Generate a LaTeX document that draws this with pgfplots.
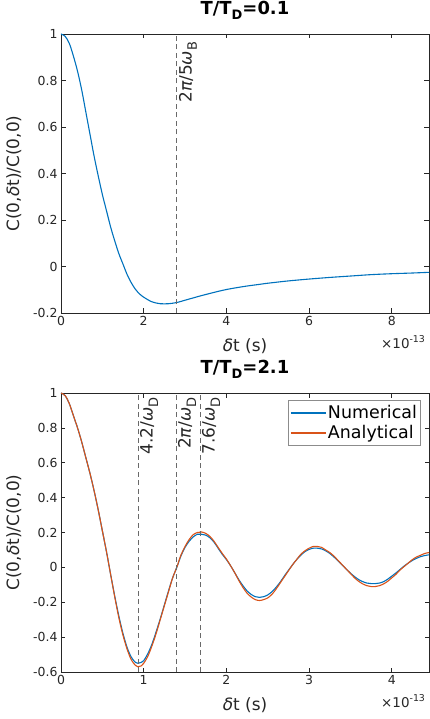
\documentclass[border=0pt]{standalone}
\usepackage{fontspec}
\setmainfont{DejaVu Sans}
\usepackage{pgfplots}
\pgfplotsset{compat=1.18}

\definecolor{mblue}{RGB}{0,114,189}
\definecolor{morange}{RGB}{217,83,25}
\definecolor{axgray}{RGB}{38,38,38}
\definecolor{refgray}{RGB}{105,105,105}

% MATLAB-like subscript: fairly large, well lowered
\newcommand{\sub}[1]{\raisebox{-0.32em}{\fontsize{13}{13}\selectfont #1}}

\pgfplotsset{
  corrplot/.style={
    scale only axis, width=368bp, height=279bp,
    axis line style={axgray, line width=0.6bp},
    tick style={axgray, line width=0.6bp},
    major tick length=4.5bp,
    ticklabel style={font=\fontsize{12.5}{14}\selectfont, text=axgray},
    /pgf/number format/assume math mode=true,
    scaled ticks=false,
    xlabel={\textit{δ}t (s)},
    ylabel={C(0,\textit{δ}t)/C(0,0)},
    label style={font=\fontsize{17}{20}\selectfont, text=axgray},
    xlabel style={at={(axis description cs:0.5,0)}, anchor=center, yshift=-33bp},
    ylabel style={at={(axis description cs:-0.128,0.5)}, anchor=center},
    title style={font=\bfseries\fontsize{18}{20}\selectfont, at={(axis description cs:0.5,1)}, anchor=base, yshift=14bp},
    clip=false,
  },
  vline/.style={refgray, dash pattern=on 5bp off 3.5bp, line width=0.6bp, forget plot},
}
\tikzset{
  vlab/.style={rotate=90, anchor=north east, font=\fontsize{17}{20}\selectfont, text=axgray, inner sep=2bp},
  expo/.style={anchor=base east, font=\fontsize{13.5}{15}\selectfont, text=axgray, yshift=-35bp},
}

\begin{document}
\begin{tikzpicture}
\useasboundingbox (-61bp,-406bp) rectangle (369bp,313bp);

% T/T_D = 0.1
\begin{axis}[corrplot, at={(0,0)}, anchor=south west,
  title={T/T\sub{\bfseries D}=0.1},
  xmin=0, xmax=8.9, ymin=-0.2, ymax=1,
  xtick={0,2,4,6,8}, ytick={-0.2,0,0.2,0.4,0.6,0.8,1}]
\addplot[mblue, line width=1.1bp, smooth] coordinates {
(0,1) (0.1,0.99) (0.2,0.96) (0.3,0.905) (0.4,0.84) (0.5,0.76) (0.6,0.665)
(0.7,0.57) (0.8,0.475) (0.9,0.39) (1.0,0.31) (1.1,0.24) (1.2,0.17) (1.3,0.11)
(1.4,0.055) (1.5,0.01) (1.6,-0.035) (1.7,-0.07) (1.8,-0.098) (1.9,-0.118)
(2.0,-0.132) (2.2,-0.152) (2.4,-0.16) (2.6,-0.16) (2.8,-0.155) (3.0,-0.145)
(3.2,-0.135) (3.4,-0.125) (3.6,-0.116) (3.8,-0.107) (4.0,-0.099) (4.25,-0.091)
(4.5,-0.084) (4.75,-0.078) (5.0,-0.072) (5.5,-0.062) (6.0,-0.054) (6.5,-0.047)
(7.0,-0.041) (7.5,-0.035) (8.0,-0.031) (8.5,-0.028) (8.9,-0.025)};
\addplot[vline] coordinates {(2.8,-0.2) (2.8,1)};
\node[vlab] at (axis cs:2.8,0.975) {2\textit{π}/5\textit{ω}\sub{B}};
\node[expo] at (rel axis cs:1,0) {×10\textsuperscript{-13}};
\end{axis}

% T/T_D = 2.1
\begin{axis}[corrplot, at={(0,-359bp)}, anchor=south west,
  title={T/T\sub{\bfseries D}=2.1},
  xmin=0, xmax=4.45, ymin=-0.6, ymax=1,
  xtick={0,1,2,3,4}, ytick={-0.6,-0.4,-0.2,0,0.2,0.4,0.6,0.8,1},
  legend style={at={(0.976,0.975)}, anchor=north east,
    font=\fontsize{17.5}{20}\selectfont, text=black, draw=black!45, line width=0.5bp,
    inner xsep=2bp, inner ysep=3bp, row sep=1.5bp, nodes={inner xsep=1bp}},
  legend cell align=left,
  legend image code/.code={\draw[#1, line width=2bp] (0bp,0bp) -- (35bp,0bp);}]
\addplot[mblue, line width=1.1bp, smooth] coordinates {
(0,1) (0.05,0.985) (0.1,0.94) (0.15,0.87) (0.2,0.80) (0.25,0.72) (0.3,0.63)
(0.35,0.54) (0.4,0.44) (0.45,0.33) (0.5,0.21) (0.55,0.09) (0.6,-0.04)
(0.65,-0.165) (0.7,-0.28) (0.75,-0.38) (0.8,-0.46) (0.85,-0.515) (0.9,-0.545)
(0.93,-0.55) (0.97,-0.545) (1.0,-0.535) (1.05,-0.495) (1.1,-0.44) (1.15,-0.37)
(1.2,-0.295) (1.25,-0.215) (1.3,-0.135) (1.35,-0.06) (1.4,0.0) (1.45,0.065)
(1.5,0.115) (1.55,0.15) (1.6,0.175) (1.65,0.19) (1.7,0.19) (1.75,0.185)
(1.8,0.17) (1.85,0.145) (1.9,0.11) (1.95,0.075) (2.0,0.045) (2.05,0.01)
(2.1,-0.03) (2.15,-0.07) (2.2,-0.105) (2.25,-0.135) (2.3,-0.155) (2.35,-0.168)
(2.4,-0.172) (2.45,-0.168) (2.5,-0.158) (2.55,-0.14) (2.6,-0.115) (2.65,-0.085)
(2.7,-0.05) (2.75,-0.017) (2.8,0.015) (2.85,0.045) (2.9,0.07) (2.95,0.09)
(3.0,0.103) (3.05,0.11) (3.1,0.11) (3.15,0.106) (3.2,0.095) (3.25,0.08)
(3.3,0.06) (3.35,0.037) (3.4,0.013) (3.45,-0.01) (3.5,-0.033) (3.55,-0.053)
(3.6,-0.07) (3.65,-0.082) (3.7,-0.09) (3.75,-0.093) (3.8,-0.093) (3.85,-0.09)
(3.9,-0.082) (3.95,-0.068) (4.0,-0.05) (4.05,-0.032) (4.1,-0.012) (4.15,0.008)
(4.2,0.025) (4.25,0.04) (4.3,0.052) (4.35,0.062) (4.4,0.068) (4.45,0.072)};
\addlegendentry{Numerical}
\addplot[morange, line width=1.1bp, smooth] coordinates {
(0,1) (0.05,0.985) (0.1,0.94) (0.15,0.87) (0.2,0.80) (0.25,0.72) (0.3,0.63)
(0.35,0.54) (0.4,0.44) (0.45,0.33) (0.5,0.21) (0.55,0.09) (0.6,-0.04)
(0.65,-0.17) (0.7,-0.29) (0.75,-0.39) (0.8,-0.47) (0.85,-0.53) (0.9,-0.562)
(0.93,-0.57) (0.97,-0.565) (1.0,-0.55) (1.05,-0.51) (1.1,-0.45) (1.15,-0.38)
(1.2,-0.30) (1.25,-0.22) (1.3,-0.14) (1.35,-0.06) (1.4,0.0) (1.45,0.07)
(1.5,0.12) (1.55,0.16) (1.6,0.188) (1.65,0.2) (1.7,0.203) (1.75,0.195)
(1.8,0.178) (1.85,0.15) (1.9,0.115) (1.95,0.08) (2.0,0.048) (2.05,0.01)
(2.1,-0.03) (2.15,-0.075) (2.2,-0.115) (2.25,-0.148) (2.3,-0.17) (2.35,-0.185)
(2.4,-0.19) (2.45,-0.185) (2.5,-0.175) (2.55,-0.155) (2.6,-0.125) (2.65,-0.09)
(2.7,-0.055) (2.75,-0.02) (2.8,0.015) (2.85,0.045) (2.9,0.075) (2.95,0.095)
(3.0,0.11) (3.05,0.12) (3.1,0.12) (3.15,0.115) (3.2,0.10) (3.25,0.085)
(3.3,0.065) (3.35,0.04) (3.4,0.015) (3.45,-0.01) (3.5,-0.035) (3.55,-0.06)
(3.6,-0.08) (3.65,-0.095) (3.7,-0.105) (3.75,-0.11) (3.8,-0.11) (3.85,-0.105)
(3.9,-0.095) (3.95,-0.08) (4.0,-0.06) (4.05,-0.04) (4.1,-0.015) (4.15,0.005)
(4.2,0.025) (4.25,0.045) (4.3,0.06) (4.35,0.07) (4.4,0.08) (4.45,0.085)};
\addlegendentry{Analytical}
\addplot[vline] coordinates {(0.93,-0.6) (0.93,1)};
\addplot[vline] coordinates {(1.39,-0.6) (1.39,1)};
\addplot[vline] coordinates {(1.68,-0.6) (1.68,1)};
\node[vlab] at (axis cs:0.93,0.985) {4.2/\textit{ω}\sub{D}};
\node[vlab] at (axis cs:1.39,0.985) {2\textit{π}/\textit{ω}\sub{D}};
\node[vlab] at (axis cs:1.68,0.985) {7.6/\textit{ω}\sub{D}};
\node[expo] at (rel axis cs:1,0) {×10\textsuperscript{-13}};
\end{axis}
\end{tikzpicture}
\end{document}
